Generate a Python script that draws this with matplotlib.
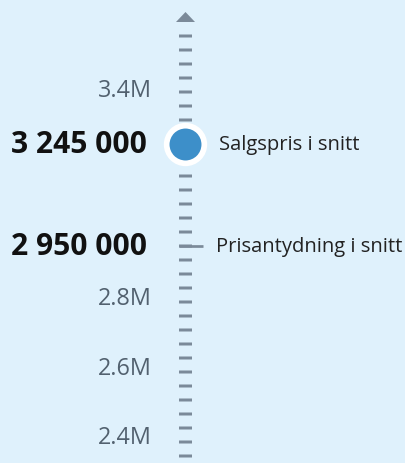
import matplotlib
matplotlib.use("Agg")
import matplotlib.pyplot as plt
from matplotlib.patches import Polygon

# ---- data ----
tick_values = [2.4e6, 2.6e6, 2.8e6, 3.4e6]
tick_labels = ["2.4M", "2.6M", "2.8M", "3.4M"]
sale_price = 3245000
asking_price = 2950000
sale_text = "3 245 000"
asking_text = "2 950 000"
sale_label = "Salgspris i snitt"
asking_label = "Prisantydning i snitt"

# ---- style ----
W, H = 406, 464
BG = "#dff1fc"
AXIS_C = "#7b8a99"
TICK_C = "#52616f"
DOT_C = "#3d8fc9"
FONT = ["Open Sans", "DejaVu Sans"]
plt.rcParams["font.family"] = FONT
plt.rcParams["lines.scale_dashes"] = False

fig = plt.figure(figsize=(W / 100, H / 100), dpi=100)
fig.patch.set_facecolor(BG)

# layout overlay in pixel coordinates (decorations only)
lay = fig.add_axes([0, 0, 1, 1], zorder=1)
lay.set_xlim(0, W)
lay.set_ylim(H, 0)
lay.axis("off")
lay.patch.set_alpha(0)

# data axes: linear value scale
ax = fig.add_axes([0, 0, 1, 1], zorder=2)
ax.patch.set_alpha(0)
ax.set_xlim(0, W)
px_per_val = (438 - 91) / 1.0e6
top_val = 3.4e6 + 91 / px_per_val
bot_val = 3.4e6 - (H - 91) / px_per_val
ax.set_ylim(bot_val, top_val)
ax.axis("off")

AX_X = 185.5

# dashed axis line
lay.plot([AX_X, AX_X], [34.5, 457.5], color=AXIS_C, lw=13 * 0.72,
         dashes=(3 * 0.72, 11 * 0.72), solid_capstyle="butt",
         dash_capstyle="butt")
# arrow head
lay.add_patch(Polygon([(176, 23), (195, 23), (AX_X, 13)], closed=True,
                      color=AXIS_C, lw=0))

# tick labels
for v, lab in zip(tick_values, tick_labels):
    ax.text(152, v, lab, ha="right", va="center", fontsize=16.8,
            color=TICK_C)

# asking price marker (short line)
ax.plot([179, 203], [asking_price, asking_price], color=AXIS_C,
        lw=2.7 * 0.72, solid_capstyle="butt")
ax.text(147, asking_price, asking_text, ha="right", va="center",
        fontsize=21.6, fontweight="bold", color="#111111")
ax.text(216, asking_price, asking_label, ha="left", va="center",
        fontsize=14.5, color="#222222")

# sale price dot
ax.plot([AX_X], [sale_price], "o", ms=27.1, mfc=DOT_C, mec="white",
        mew=4.1, zorder=5)
ax.text(147, sale_price, sale_text, ha="right", va="center",
        fontsize=21.6, fontweight="bold", color="#111111")
ax.text(219, sale_price, sale_label, ha="left", va="center",
        fontsize=14.5, color="#222222")

fig.savefig("out.png", dpi=100, facecolor=BG)
